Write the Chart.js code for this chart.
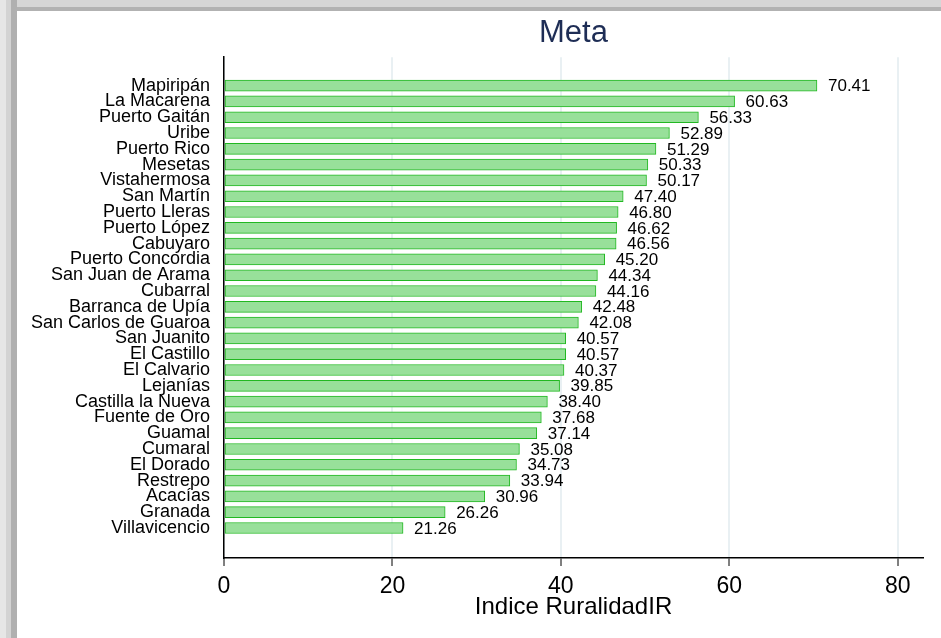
<!DOCTYPE html>
<html>
<head>
<meta charset="utf-8">
<script src="https://cdn.jsdelivr.net/npm/chart.js@4"></script>
<style>
  html, body { margin: 0; padding: 0; background: #fff; }
  body { width: 941px; height: 638px; position: relative; overflow: hidden; }
  .top { position: absolute; left: 0; top: 0; width: 941px; height: 11px;
         background: linear-gradient(to bottom, #d6d6d6 0, #d6d6d6 7px, #b2b2b2 7px, #b2b2b2 11px); }
  .left { position: absolute; left: 0; top: 0; width: 17px; height: 638px;
          background: linear-gradient(to right, #e6e6e6 0, #e6e6e6 6px, #d3d3d3 6px, #d3d3d3 11px, #b0b0b0 11px, #b0b0b0 17px); }
  #wrap { position: absolute; left: 17px; top: 11px; width: 924px; height: 627px; background: #fff; }
</style>
</head>
<body>
<div class="top"></div>
<div class="left"></div>
<div id="wrap"><canvas id="chart"></canvas></div>
<script>
  const municipios = [
    'Mapiripán', 'La Macarena', 'Puerto Gaitán', 'Uribe', 'Puerto Rico', 'Mesetas',
    'Vistahermosa', 'San Martín', 'Puerto Lleras', 'Puerto López', 'Cabuyaro',
    'Puerto Concordia', 'San Juan de Arama', 'Cubarral', 'Barranca de Upía',
    'San Carlos de Guaroa', 'San Juanito', 'El Castillo', 'El Calvario', 'Lejanías',
    'Castilla la Nueva', 'Fuente de Oro', 'Guamal', 'Cumaral', 'El Dorado',
    'Restrepo', 'Acacías', 'Granada', 'Villavicencio'
  ];
  const indice = [
    70.41, 60.63, 56.33, 52.89, 51.29, 50.33,
    50.17, 47.40, 46.80, 46.62, 46.56,
    45.20, 44.34, 44.16, 42.48,
    42.08, 40.57, 40.57, 40.37, 39.85,
    38.40, 37.68, 37.14, 35.08, 34.73,
    33.94, 30.96, 26.26, 21.26
  ];
  const xTicks = [0, 20, 40, 60, 80];

  const font = 'Arial, "Liberation Sans", sans-serif';

  // etiquetas con el valor a la derecha de cada barra
  const valueLabels = {
    id: 'valueLabels',
    afterDatasetsDraw(chart) {
      const ctx = chart.ctx;
      const meta = chart.getDatasetMeta(0);
      ctx.save();
      ctx.font = '17px ' + font;
      ctx.fillStyle = '#000';
      ctx.textAlign = 'left';
      ctx.textBaseline = 'middle';
      meta.data.forEach((bar, i) => {
        ctx.fillText(indice[i].toFixed(2), bar.x + 11, bar.y + 1);
      });
      ctx.restore();
    }
  };

  new Chart(document.getElementById('chart'), {
    type: 'bar',
    data: {
      datasets: [{
        data: indice.map((v, i) => ({ x: v, y: i })),
        backgroundColor: '#98e09a',
        borderColor: '#22b822',
        borderWidth: 1,
        borderSkipped: false,
        barThickness: 11
      }]
    },
    options: {
      indexAxis: 'y',
      responsive: true,
      maintainAspectRatio: false,
      animation: false,
      layout: { padding: { left: 0, right: 18, top: 0, bottom: 0 } },
      plugins: {
        legend: { display: false },
        tooltip: { enabled: false },
        title: {
          display: true,
          text: 'Meta',
          fullSize: false,
          color: '#1e2d55',
          font: { family: font, size: 31, weight: 'normal', lineHeight: 1.2 },
          padding: { top: 4, bottom: 5 }
        }
      },
      scales: {
        x: {
          type: 'linear',
          min: 0,
          max: 83,
          afterBuildTicks: s => { s.ticks = xTicks.map(v => ({ value: v })); },
          afterFit: s => { s.height = 80; },
          grid: {
            color: '#e9f0f3',
            lineWidth: 2,
            tickColor: '#000',
            tickLength: 8,
            tickWidth: 1
          },
          border: { display: true, color: '#000', width: 1.5 },
          ticks: {
            color: '#000',
            padding: 9,
            font: { family: font, size: 23, lineHeight: 1 }
          },
          title: {
            display: true,
            text: 'Indice RuralidadIR',
            color: '#000',
            font: { family: font, size: 24, lineHeight: 1 },
            padding: { top: 0, bottom: 19 }
          }
        },
        y: {
          type: 'linear',
          reverse: true,
          offset: false,
          min: -1.8,
          max: 29.9,
          afterBuildTicks: s => { s.ticks = municipios.map((_, i) => ({ value: i })); },
          afterFit: s => { s.width = 207; },
          grid: { display: false },
          border: { display: true, color: '#000', width: 1.5 },
          ticks: {
            autoSkip: false,
            color: '#000',
            padding: 6,
            font: { family: font, size: 18, lineHeight: 1 },
            callback: v => municipios[v] ?? ''
          }
        }
      }
    },
    plugins: [valueLabels]
  });
</script>
</body>
</html>
